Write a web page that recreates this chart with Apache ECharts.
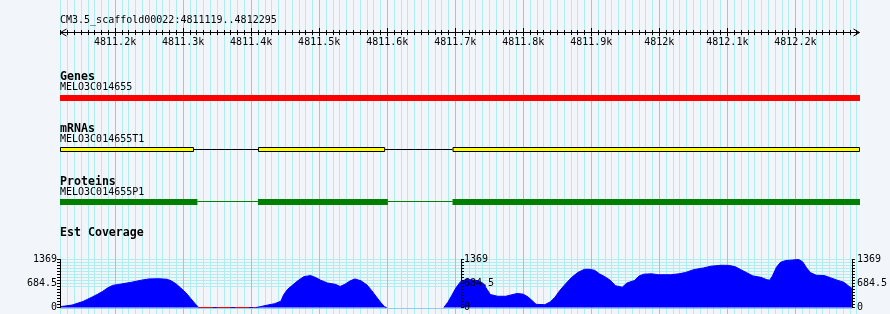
<!DOCTYPE html>
<html><head><meta charset="utf-8">
<script src="https://cdn.jsdelivr.net/npm/echarts@6/dist/echarts.min.js"></script>
<style>html,body{margin:0;padding:0;background:#f2f6fb}#c{width:890px;height:314px}</style>
</head><body><div id="c"></div>
<script>
const regionStart = 4811119, regionEnd = 4812295;
const regionTitle = 'CM3.5_scaffold00022:4811119..4812295';
const rulerMin = 4811100, rulerMax = 4812300, rulerStep = 100;
const trackTitles = ['Genes', 'mRNAs', 'Proteins', 'Est Coverage'];
const geneName = 'MELO3C014655';
const geneSpans = [[4811119, 4812295]];
const mrnaName = 'MELO3C014655T1';
const mrnaExons = [[4811119, 4811316], [4811410, 4811597], [4811696, 4812295]];
const proteinName = 'MELO3C014655P1';
const proteinExons = [[4811119, 4811321], [4811410, 4811601], [4811696, 4812295]];
const covMax = 1369;
const covStep = 85.5625;
const covLabels = [0, 684.5, 1369];
const covLeftPos = [4811119,4811126,4811137,4811145,4811153,4811160,4811168,4811175,4811182,4811190,4811197,4811210,4811225,4811240,4811251,4811266,4811278,4811284,4811291,4811298,4811306,4811313,4811320,4811325,4811410,4811416,4811425,4811438,4811447,4811451,4811457,4811465,4811472,4811481,4811491,4811498,4811506,4811516,4811528,4811535,4811542,4811550,4811557,4811566,4811575,4811582,4811589,4811595,4811601,4811604];
const covLeftVal = [25,40,70,120,170,235,310,380,455,560,630,670,720,780,815,820,805,760,680,560,420,260,100,0,0,20,60,110,180,360,520,650,760,880,910,860,780,700,660,600,660,760,815,760,640,480,300,150,20,0];
const covRightPos = [4811689,4811695,4811701,4811707,4811714,4811722,4811731,4811741,4811748,4811753,4811758,4811769,4811781,4811789,4811798,4811807,4811814,4811820,4811826,4811839,4811847,4811854,4811861,4811870,4811879,4811888,4811898,4811905,4811913,4811920,4811928,4811936,4811944,4811954,4811961,4811972,4811979,4811986,4811997,4812008,4812026,4812038,4812048,4812060,4812075,4812086,4812101,4812113,4812122,4812130,4812139,4812148,4812160,4812169,4812173,4812177,4812183,4812189,4812197,4812207,4812216,4812222,4812227,4812233,4812242,4812254,4812263,4812273,4812283,4812291,4812295];
const covRightVal = [0,150,350,560,740,800,790,760,680,520,370,320,320,360,400,380,300,200,90,80,160,290,480,680,860,1000,1090,1090,1060,960,880,780,620,580,700,770,900,950,960,935,935,960,1000,1080,1130,1180,1205,1200,1160,1080,990,900,860,790,780,900,1150,1290,1340,1355,1369,1300,1150,1000,920,910,850,780,720,600,550];
const zeroSpans = [[4811325, 4811410]];

const FONT = 'DejaVu Sans Mono';
const BG = '#f2f6fb';
const pxPerBp = 800 / (regionEnd - regionStart);
const extLeft = 60 - (regionStart - rulerMin) * pxPerBp;
const extWidth = (rulerMax - rulerMin) * pxPerBp;

function introns(exons) {
  const r = [];
  for (let i = 1; i < exons.length; i++) r.push([exons[i - 1][1], exons[i][0]]);
  return r;
}
function rectItem(fill, stroke) {
  return function (params, api) {
    const p0 = api.coord([api.value(0), 1]);
    const p1 = api.coord([api.value(1), 0]);
    let x = p0[0], y = p0[1], w = p1[0] - p0[0], h = p1[1] - p0[1];
    if (stroke) { x += 0.5; y += 0.5; w -= 1; h -= 1; }
    return { type: 'rect', shape: { x, y, width: w, height: h },
      style: { fill: fill, stroke: stroke || null, lineWidth: 1 } };
  };
}
function lineItem(color) {
  return function (params, api) {
    const p0 = api.coord([api.value(0), 0.5]);
    const p1 = api.coord([api.value(1), 0.5]);
    const y = Math.floor(p0[1] - 0.5) + 0.5;
    return { type: 'line', shape: { x1: p0[0], y1: y, x2: p1[0], y2: y },
      style: { stroke: color, lineWidth: 1 } };
  };
}
function coverRect(params, api) {
  const p0 = api.coord([api.value(0), 1]);
  const p1 = api.coord([api.value(1), 0]);
  let x0 = p0[0], x1 = p1[0];
  if (params.dataIndex === 0) x0 -= 3; else x1 += 3;
  return { type: 'rect', shape: { x: x0, y: p0[1] - 1, width: x1 - x0, height: p1[1] - p0[1] + 2 },
    style: { fill: BG } };
}
function rulerItem(params, api) {
  const p0 = api.coord([api.value(0), 0]);
  const p1 = api.coord([api.value(1), 0]);
  const y = Math.floor(p0[1]) + 0.5;
  const a = p0[0] + 0.5, b = p1[0] - 0.5;
  return { type: 'group', children: [
    { type: 'line', shape: { x1: a, y1: y, x2: b, y2: y }, style: { stroke: '#000', lineWidth: 1 } },
    { type: 'polyline', shape: { points: [[a + 6, y - 3.5], [a, y], [a + 6, y + 3.5]] }, style: { stroke: '#000', fill: null, lineWidth: 1 } },
    { type: 'polyline', shape: { points: [[b - 6, y - 3.5], [b, y], [b - 6, y + 3.5]] }, style: { stroke: '#000', fill: null, lineWidth: 1 } }
  ] };
}
function pairs(pos, val) { return pos.map((p, i) => [p, val[i]]); }

const smallText = { fontFamily: FONT, fontSize: 10, fontWeight: 'normal', color: '#000' };
const boldText = { fontFamily: FONT, fontSize: 11.6, fontWeight: 'bold', color: '#000' };
const covLabelFmt = v => (covLabels.indexOf(v) >= 0 ? String(v) : '');
const hLineColors = [];
for (let i = 0; i <= 16; i++) hLineColors.push(i >= 7 ? '#afeeee' : 'rgba(0,0,0,0)');

const rulerAxisBase = {
  type: 'value', gridIndex: 1, min: rulerMin, max: rulerMax, interval: rulerStep, z: 0,
  position: 'bottom', axisLine: { show: false, onZero: false }, splitLine: { show: false }
};

const option = {
  backgroundColor: BG,
  animation: false,
  textStyle: { fontFamily: FONT },
  title: [
    { text: regionTitle, left: 60, top: 15, padding: 0, textStyle: smallText },
    { text: trackTitles[0], left: 60, top: 70.5, padding: 0, textStyle: boldText },
    { text: geneName, left: 60, top: 82, padding: 0, textStyle: smallText },
    { text: trackTitles[1], left: 60, top: 123, padding: 0, textStyle: boldText },
    { text: mrnaName, left: 60, top: 134.5, padding: 0, textStyle: smallText },
    { text: trackTitles[2], left: 60, top: 175.5, padding: 0, textStyle: boldText },
    { text: proteinName, left: 60, top: 187, padding: 0, textStyle: smallText },
    { text: trackTitles[3], left: 60, top: 226.5, padding: 0, textStyle: boldText }
  ],
  grid: [
    { left: extLeft, width: extWidth, top: 0, height: 314 },
    { left: extLeft, width: extWidth, top: 0, height: 32 },
    { left: 60, width: 800, top: 95, height: 6 },
    { left: 60, width: 800, top: 147, height: 5 },
    { left: 60, width: 800, top: 199, height: 6 },
    { left: 60, width: 800, top: 259.5, height: 48 },
    { left: 461, width: 399, top: 259.5, height: 48 }
  ],
  xAxis: [
    { type: 'value', gridIndex: 0, min: rulerMin, max: rulerMax, interval: rulerStep, z: 0,
      axisLine: { show: false }, axisTick: { show: false }, axisLabel: { show: false },
      minorTick: { show: false, splitNumber: 10 },
      splitLine: { show: true, lineStyle: { color: '#8fcbe8', width: 1 } },
      minorSplitLine: { show: true, lineStyle: { color: '#afeeee', width: 1 } } },
    Object.assign({}, rulerAxisBase, {
      axisTick: { show: true, inside: true, length: 4, lineStyle: { color: '#000' } },
      minorTick: { show: true, splitNumber: 10, length: 2, lineStyle: { color: '#000' } },
      axisLabel: { show: false } }),
    Object.assign({}, rulerAxisBase, {
      axisTick: { show: true, inside: false, length: 4, lineStyle: { color: '#000' } },
      minorTick: { show: true, splitNumber: 10, length: 3, lineStyle: { color: '#000' } },
      axisLabel: { show: true, margin: 5, fontFamily: FONT, fontSize: 10, color: '#000',
        formatter: v => (v < regionStart || v > regionEnd ? '' : (v / 1000) + 'k') } }),
    { type: 'value', gridIndex: 2, min: regionStart, max: regionEnd, show: false },
    { type: 'value', gridIndex: 3, min: regionStart, max: regionEnd, show: false },
    { type: 'value', gridIndex: 4, min: regionStart, max: regionEnd, show: false },
    { type: 'value', gridIndex: 5, min: regionStart, max: regionEnd, position: 'bottom', offset: 1,
      axisLine: { show: true, onZero: false, lineStyle: { color: '#8fcfee', width: 1 } },
      axisTick: { show: false }, axisLabel: { show: false }, splitLine: { show: false } },
    { type: 'value', gridIndex: 6, min: regionStart, max: regionEnd, show: false }
  ],
  yAxis: [
    { type: 'value', gridIndex: 0, min: 0, max: 1, show: false },
    { type: 'value', gridIndex: 1, min: 0, max: 1, show: false },
    { type: 'value', gridIndex: 2, min: 0, max: 1, show: false },
    { type: 'value', gridIndex: 3, min: 0, max: 1, show: false },
    { type: 'value', gridIndex: 4, min: 0, max: 1, show: false },
    { type: 'value', gridIndex: 5, min: 0, max: covMax, interval: covStep, position: 'left', z: 0,
      axisLine: { show: false }, axisTick: { show: false }, axisLabel: { show: false },
      splitLine: { show: true, lineStyle: { color: hLineColors, width: 1 } } },
    { type: 'value', gridIndex: 5, min: 0, max: covMax, interval: covStep, position: 'left', z: 60,
      axisLine: { show: true, onZero: false, lineStyle: { color: '#000' } },
      axisTick: { show: true, length: 3, lineStyle: { color: '#000' } },
      axisLabel: { show: true, margin: 3, fontFamily: FONT, fontSize: 10, color: '#000', formatter: covLabelFmt },
      splitLine: { show: false } },
    { type: 'value', gridIndex: 5, min: 0, max: covMax, interval: covStep, position: 'right', z: 60,
      axisLine: { show: true, onZero: false, lineStyle: { color: '#000' } },
      axisTick: { show: true, length: 3, lineStyle: { color: '#000' } },
      axisLabel: { show: true, margin: 5, fontFamily: FONT, fontSize: 10, color: '#000', formatter: covLabelFmt },
      splitLine: { show: false } },
    { type: 'value', gridIndex: 6, min: 0, max: covMax, interval: covStep, position: 'left', z: 60,
      axisLine: { show: true, onZero: false, lineStyle: { color: '#000' } },
      axisTick: { show: true, inside: true, length: 3, lineStyle: { color: '#000' } },
      axisLabel: { show: true, inside: true, margin: 3, fontFamily: FONT, fontSize: 10, color: '#000', formatter: covLabelFmt },
      splitLine: { show: false } }
  ],
  series: [
    { type: 'custom', name: 'cover', xAxisIndex: 0, yAxisIndex: 0, z: 50, silent: true, clip: false,
      data: [[rulerMin, regionStart], [regionEnd, rulerMax]], renderItem: coverRect },
    { type: 'custom', name: 'ruler', xAxisIndex: 1, yAxisIndex: 1, z: 70, silent: true, clip: false,
      data: [[regionStart, regionEnd]], renderItem: rulerItem },
    { type: 'custom', name: 'Genes', xAxisIndex: 3, yAxisIndex: 2, data: geneSpans, renderItem: rectItem('#ff0000') },
    { type: 'custom', name: 'mRNA introns', xAxisIndex: 4, yAxisIndex: 3, data: introns(mrnaExons), renderItem: lineItem('#000') },
    { type: 'custom', name: 'mRNAs', xAxisIndex: 4, yAxisIndex: 3, data: mrnaExons, renderItem: rectItem('#ffff00', '#000') },
    { type: 'custom', name: 'Protein introns', xAxisIndex: 5, yAxisIndex: 4, data: introns(proteinExons), renderItem: lineItem('#008000') },
    { type: 'custom', name: 'Proteins', xAxisIndex: 5, yAxisIndex: 4, data: proteinExons, renderItem: rectItem('#008000') },
    { type: 'line', name: 'Est Coverage L', xAxisIndex: 6, yAxisIndex: 6, data: pairs(covLeftPos, covLeftVal),
      showSymbol: false, symbol: 'none', lineStyle: { color: '#0000ff', width: 1 }, areaStyle: { color: '#0000ff', opacity: 1 } },
    { type: 'line', name: 'Est Coverage R', xAxisIndex: 6, yAxisIndex: 6, data: pairs(covRightPos, covRightVal),
      showSymbol: false, symbol: 'none', lineStyle: { color: '#0000ff', width: 1 }, areaStyle: { color: '#0000ff', opacity: 1 } },
    { type: 'line', name: 'zero', xAxisIndex: 6, yAxisIndex: 6, z: 3,
      data: pairs(zeroSpans[0], [0, 0]), showSymbol: false, symbol: 'none',
      lineStyle: { color: '#ff0000', width: 1, type: [14, 4] } }
  ]
};
echarts.init(document.getElementById('c'), null, { renderer: 'canvas' }).setOption(option);
</script></body></html>
